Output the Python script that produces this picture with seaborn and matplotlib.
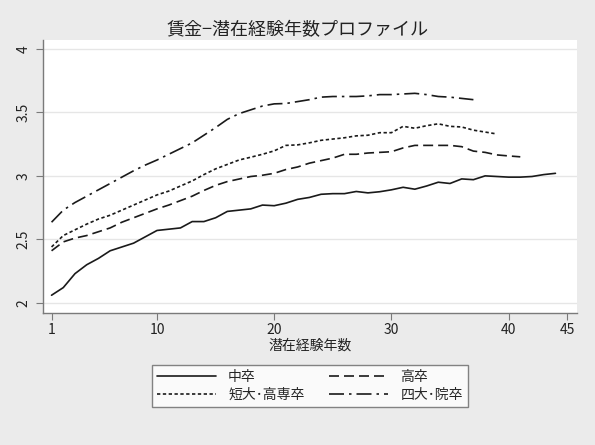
import numpy as np
import pandas as pd
import matplotlib
matplotlib.use("Agg")
import matplotlib.pyplot as plt
import seaborn as sns

# =============================
# DATA
# =============================
years_chu = list(range(1, 45))
wage_chu = [2.06, 2.12, 2.23, 2.30, 2.35, 2.41, 2.44, 2.47, 2.52, 2.57,
            2.58, 2.59, 2.64, 2.64, 2.67, 2.72, 2.73, 2.74, 2.77, 2.765,
            2.785, 2.815, 2.83, 2.855, 2.86, 2.86, 2.877, 2.866, 2.875, 2.89,
            2.91, 2.895, 2.92, 2.95, 2.94, 2.976, 2.97, 3.00, 2.995, 2.99,
            2.99, 2.995, 3.01, 3.02]

years_ko = list(range(1, 42))
wage_ko = [2.41, 2.48, 2.51, 2.53, 2.56, 2.59, 2.635, 2.67, 2.705, 2.74,
           2.77, 2.805, 2.84, 2.885, 2.925, 2.955, 2.975, 2.995, 3.005, 3.02,
           3.05, 3.07, 3.10, 3.12, 3.14, 3.17, 3.17, 3.18, 3.185, 3.19,
           3.22, 3.24, 3.24, 3.24, 3.24, 3.23, 3.195, 3.185, 3.165, 3.157,
           3.15]

years_tan = list(range(1, 40))
wage_tan = [2.44, 2.53, 2.575, 2.62, 2.66, 2.69, 2.73, 2.77, 2.81, 2.85,
            2.88, 2.92, 2.96, 3.01, 3.055, 3.09, 3.125, 3.147, 3.17, 3.197,
            3.24, 3.244, 3.26, 3.28, 3.29, 3.30, 3.315, 3.32, 3.34, 3.34,
            3.39, 3.375, 3.395, 3.41, 3.39, 3.385, 3.36, 3.345, 3.33]

years_dai = list(range(1, 38))
wage_dai = [2.635, 2.73, 2.79, 2.84, 2.89, 2.94, 2.99, 3.04, 3.085, 3.125,
            3.17, 3.215, 3.26, 3.32, 3.38, 3.445, 3.49, 3.52, 3.55, 3.567,
            3.57, 3.585, 3.60, 3.62, 3.625, 3.625, 3.625, 3.63, 3.64, 3.64,
            3.645, 3.65, 3.64, 3.625, 3.62, 3.61, 3.60]

labels = ["中卒", "高卒", "短大･高専卒", "四大･院卒"]
x_ticks = [1, 10, 20, 30, 40, 45]
y_ticks = [2, 2.5, 3, 3.5, 4]
y_ticklabels = ["2", "2.5", "3", "3.5", "4"]

# =============================
# DATAFRAME
# =============================
frames = []
for lab, xs, ys in zip(labels,
                       [years_chu, years_ko, years_tan, years_dai],
                       [wage_chu, wage_ko, wage_tan, wage_dai]):
    frames.append(pd.DataFrame({"exp": xs, "wage": ys, "edu": lab}))
df = pd.concat(frames, ignore_index=True)

# =============================
# PLOT
# =============================
sns.set_style("white")
plt.rcParams["font.family"] = ["Noto Sans CJK JP", "DejaVu Sans"]

bg = "#ebebeb"
ink = "#1a1a1a"
fig = plt.figure(figsize=(5.95, 4.45), dpi=100, facecolor=bg)
ax = fig.add_axes([43 / 595, 1 - 313 / 445, (577 - 43) / 595, (313 - 40) / 445])
ax.set_facecolor("white")

dash_styles = {
    "中卒": "",
    "高卒": (6, 3),
    "短大･高専卒": (2, 1.5),
    "四大･院卒": (9, 3, 1.5, 3),
}

sns.lineplot(data=df, x="exp", y="wage", hue="edu", style="edu",
             palette=[ink] * 4, dashes=dash_styles,
             linewidth=1.2, ax=ax, legend=False, sort=False)

ax.set_xlim(0.27, 45.84)
ax.set_ylim(1.92, 4.07)
ax.set_xticks(x_ticks)
ax.set_yticks(y_ticks)
ax.set_yticklabels(y_ticklabels, rotation=90, va="center")
ax.grid(axis="y", color="#e6e6e6", linewidth=1.0)
ax.grid(axis="x", visible=False)

for s in ["top", "right"]:
    ax.spines[s].set_visible(False)
for s in ["left", "bottom"]:
    ax.spines[s].set_color("#7a7a7a")
    ax.spines[s].set_linewidth(1.0)
ax.tick_params(axis="both", direction="out", length=5, width=0.8,
               color="#7a7a7a", labelsize=10, labelcolor="#222222")
ax.tick_params(axis="x", pad=2)
ax.tick_params(axis="y", pad=4)
ax.tick_params(axis="both", which="both", bottom=True, left=True)

ax.set_xlabel("潜在経験年数", fontsize=10, labelpad=1, color="#222222")
ax.set_ylabel("")
fig.text(0.5, 1 - 30 / 445, "賃金−潜在経験年数プロファイル", fontsize=13,
         ha="center", va="center", color="#222222")

# legend (row-wise order: 中卒, 高卒 / 短大, 四大)
def make_handle(lab):
    if dash_styles[lab] == "":
        return plt.Line2D([], [], color=ink, linewidth=1.2, linestyle="-")
    return plt.Line2D([], [], color=ink, linewidth=1.2, dashes=dash_styles[lab])

order = [labels[0], labels[2], labels[1], labels[3]]
handles = [make_handle(l) for l in order]
leg = fig.legend(handles, order, ncol=2, loc="center",
                 bbox_to_anchor=(310 / 595, 1 - 386 / 445),
                 frameon=True, fancybox=False, fontsize=10,
                 handlelength=4.2, columnspacing=1.8, handletextpad=0.9,
                 labelspacing=0.25, borderpad=0.35, borderaxespad=0)
leg.get_frame().set_edgecolor("#666666")
leg.get_frame().set_facecolor("white")
leg.get_frame().set_linewidth(1.0)

fig.savefig("out.png", dpi=100, facecolor=bg)
